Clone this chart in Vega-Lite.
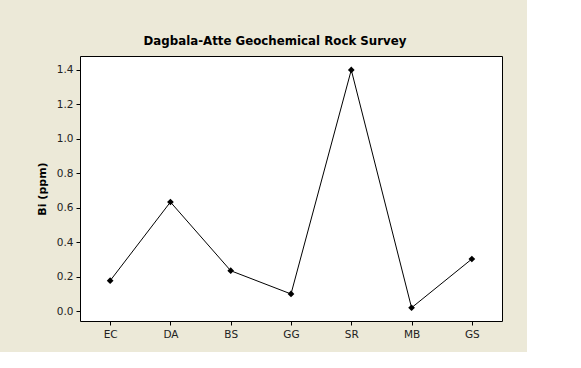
{
  "$schema": "https://vega.github.io/schema/vega-lite/v6.json",
  "width": 422,
  "height": 265,
  "autosize": {"type": "none"},
  "padding": {"left": 80, "top": 56, "right": 25, "bottom": 31},
  "background": "#ECE9D8",
  "title": {
    "text": "Dagbala-Atte Geochemical Rock Survey",
    "font": "DejaVu Sans",
    "fontSize": 11.8,
    "fontWeight": "bold",
    "color": "#000000",
    "anchor": "middle",
    "dx": -16,
    "dy": 12,
    "offset": 11,
    "baseline": "alphabetic"
  },
  "data": {
    "values": [
      {"rock": "EC", "bi": 0.176},
      {"rock": "DA", "bi": 0.633},
      {"rock": "BS", "bi": 0.234},
      {"rock": "GG", "bi": 0.099},
      {"rock": "SR", "bi": 1.40},
      {"rock": "MB", "bi": 0.019},
      {"rock": "GS", "bi": 0.302}
    ]
  },
  "encoding": {
    "x": {
      "field": "rock",
      "type": "nominal",
      "sort": null,
      "scale": {"type": "point", "padding": 0.5},
      "axis": {
        "title": null,
        "labelAngle": 0,
        "domain": false,
        "grid": false,
        "tickSize": 4,
        "tickColor": "#000000",
        "labelPadding": 4,
        "labelFont": "DejaVu Sans",
        "labelFontSize": 10.5,
        "labelColor": "#222222"
      }
    },
    "y": {
      "field": "bi",
      "type": "quantitative",
      "scale": {"domain": [-0.058, 1.481], "nice": false, "zero": false},
      "axis": {
        "title": "Bi (ppm)",
        "values": [0, 0.2, 0.4, 0.6, 0.8, 1.0, 1.2, 1.4],
        "format": ".1f",
        "domain": false,
        "grid": false,
        "tickSize": 4,
        "tickColor": "#000000",
        "labelPadding": 3,
        "labelFont": "DejaVu Sans",
        "labelFontSize": 10.5,
        "labelColor": "#222222",
        "titleFont": "DejaVu Sans",
        "titleFontSize": 11,
        "titleFontWeight": "bold",
        "titleColor": "#000000",
        "titlePadding": 9
      }
    }
  },
  "layer": [
    {"mark": {"type": "line", "color": "#000000", "strokeWidth": 1}},
    {"mark": {"type": "point", "shape": "diamond", "filled": true, "color": "#000000", "size": 45, "opacity": 1}}
  ],
  "config": {
    "view": {"fill": "#FFFFFF", "stroke": "#000000", "strokeWidth": 1}
  }
}
